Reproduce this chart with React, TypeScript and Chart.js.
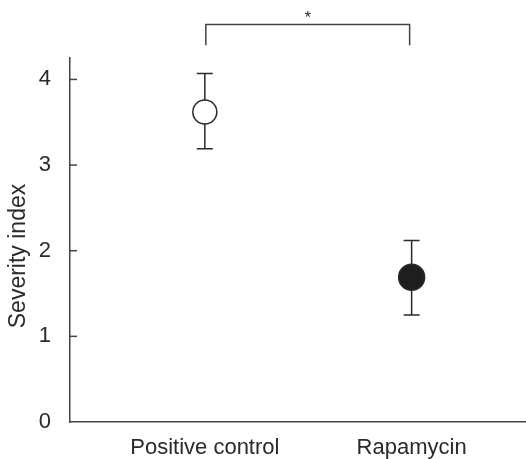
import React, { useEffect, useRef } from "react";
import { Chart, registerables } from "chart.js";

Chart.register(...registerables);

const categories = ["Positive control", "Rapamycin"];
const xPositions = [1, 2];
const means = [3.62, 1.69];
const errLow = [3.19, 1.25];
const errHigh = [4.07, 2.12];
const yTicks = [0, 1, 2, 3, 4];
const bracketTop = 4.64;
const bracketBottom = 4.4;
const sigLabel = "*";
const yTitle = "Severity index";

const FONT = "'Liberation Sans', Arial, sans-serif";
const INK = "#2a2a2a";

const overlayPlugin = {
  id: "overlay",
  beforeDatasetsDraw(chart: any) {
    const { ctx, scales } = chart;
    const xs = scales.x;
    const ys = scales.y;
    ctx.save();
    ctx.strokeStyle = INK;
    ctx.lineWidth = 1.5;
    // error bars
    for (let i = 0; i < means.length; i++) {
      const px = xs.getPixelForValue(xPositions[i]);
      const pLo = ys.getPixelForValue(errLow[i]);
      const pHi = ys.getPixelForValue(errHigh[i]);
      ctx.beginPath();
      ctx.moveTo(px, pLo);
      ctx.lineTo(px, pHi);
      ctx.moveTo(px - 8, pLo);
      ctx.lineTo(px + 8, pLo);
      ctx.moveTo(px - 8, pHi);
      ctx.lineTo(px + 8, pHi);
      ctx.stroke();
    }
    // inward y ticks
    ctx.strokeStyle = "#444";
    for (const t of yTicks) {
      if (t === 0) continue;
      const py = ys.getPixelForValue(t);
      ctx.beginPath();
      ctx.moveTo(xs.left, py);
      ctx.lineTo(xs.left + 7, py);
      ctx.stroke();
    }
    // significance bracket
    const x1 = xs.getPixelForValue(xPositions[0]) + 1;
    const x2 = xs.getPixelForValue(xPositions[1]) - 2;
    const yt = ys.getPixelForValue(bracketTop);
    const yb = ys.getPixelForValue(bracketBottom);
    ctx.strokeStyle = "#444";
    ctx.beginPath();
    ctx.moveTo(x1, yb);
    ctx.lineTo(x1, yt);
    ctx.lineTo(x2, yt);
    ctx.lineTo(x2, yb);
    ctx.stroke();
    ctx.fillStyle = INK;
    ctx.font = `17px ${FONT}`;
    ctx.textAlign = "center";
    ctx.textBaseline = "middle";
    ctx.fillText(sigLabel, (x1 + x2) / 2, yt - 6);
    // y title
    ctx.translate(19, 256);
    ctx.rotate(-Math.PI / 2);
    ctx.font = `23px ${FONT}`;
    ctx.fillText(yTitle, 0, 0);
    ctx.restore();
  },
};

export default function App() {
  const ref = useRef<HTMLCanvasElement | null>(null);
  useEffect(() => {
    if (!ref.current) return;
    const chart = new Chart(ref.current, {
      type: "scatter",
      data: {
        datasets: [
          {
            data: means.map((m, i) => ({ x: xPositions[i], y: m })),
            pointRadius: [12, 13],
            pointBackgroundColor: ["#ffffff", "#1e1e1e"],
            pointBorderColor: INK,
            pointBorderWidth: 1.5,
          },
        ],
      },
      options: {
        responsive: false,
        animation: false,
        layout: { autoPadding: false, padding: { top: 58, left: 0, right: 0, bottom: 0 } },
        plugins: { legend: { display: false }, tooltip: { enabled: false } },
        scales: {
          x: {
            type: "linear",
            min: 0.348,
            max: 2.553,
            afterBuildTicks: (s: any) => {
              s.ticks = xPositions.map((v) => ({ value: v }));
            },
            afterFit: (s: any) => {
              s.height = 37;
              s.paddingLeft = 0;
              s.paddingRight = 0;
            },
            ticks: {
              callback: (v: any) => categories[xPositions.indexOf(Number(v))] ?? "",
              font: { family: FONT, size: 22 },
              color: INK,
              padding: 13,
              maxRotation: 0,
              autoSkip: false,
            },
            grid: { display: false, drawTicks: false },
            border: { display: true, color: "#444", width: 1.5 },
          },
          y: {
            min: 0,
            max: 4.25,
            afterBuildTicks: (s: any) => {
              s.ticks = yTicks.map((v) => ({ value: v }));
            },
            afterFit: (s: any) => {
              s.width = 70;
              s.paddingTop = 0;
              s.paddingBottom = 0;
            },
            ticks: {
              font: { family: FONT, size: 22 },
              color: INK,
              padding: 19,
            },
            grid: { display: false, drawTicks: false },
            border: { display: true, color: "#444", width: 1.5 },
          },
        },
      },
      plugins: [overlayPlugin],
    });
    return () => chart.destroy();
  }, []);
  return (
    <div style={{ position: "absolute", left: 0, top: 0, width: 526, height: 459, background: "#fff" }}>
      <canvas ref={ref} width={526} height={459} />
    </div>
  );
}
